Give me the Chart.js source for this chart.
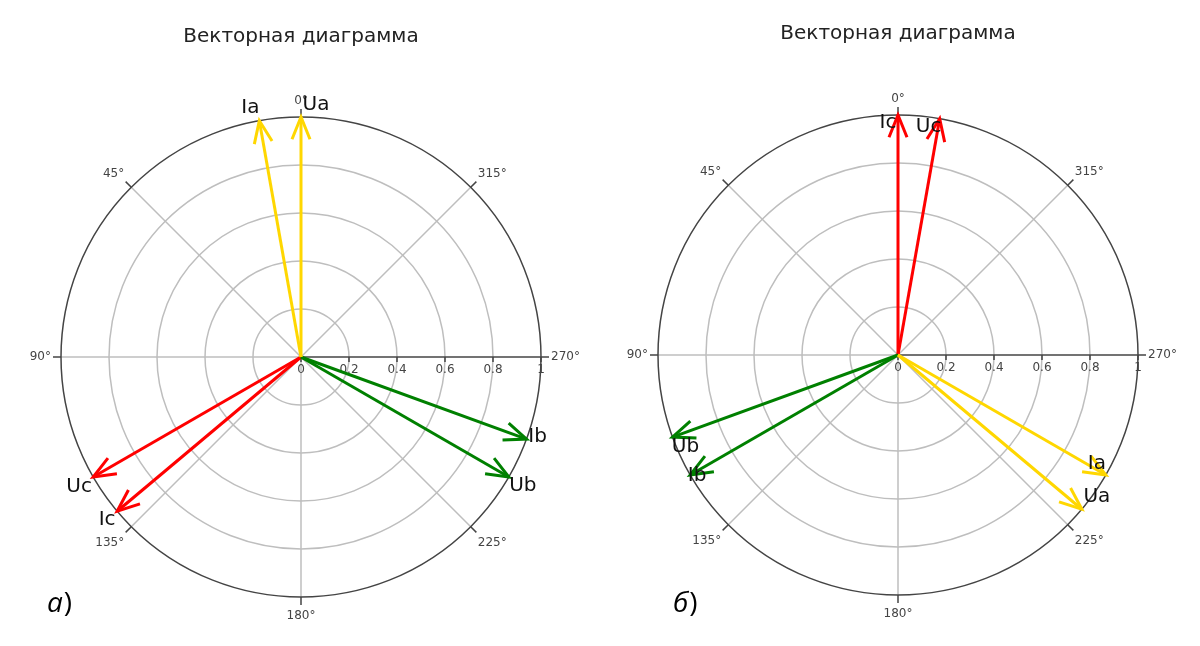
<!DOCTYPE html>
<html>
<head>
<meta charset="utf-8">
<script src="https://cdn.jsdelivr.net/npm/chart.js@4.4.0/dist/chart.umd.min.js"></script>
<style>
  body { margin: 0; background: #fff; }
  .wrap { position: relative; width: 1200px; height: 646px; }
  canvas { position: absolute; top: 0; }
</style>
</head>
<body>
<div class="wrap">
  <canvas id="chartA" width="600" height="646" style="left:0"></canvas>
  <canvas id="chartB" width="600" height="646" style="left:600px"></canvas>
</div>
<script>
// vector data, angles in degrees (0 at top, counter-clockwise)
const namesA = ['Ua', 'Ia', 'Ub', 'Ib', 'Uc', 'Ic'];
const anglesA = [0, 10, 240, 250, 120, 130];
const magsA = [1, 1, 1, 1, 1, 1];

const namesB = ['Ua', 'Ia', 'Ub', 'Ib', 'Uc', 'Ic'];
const anglesB = [230, 240, 110, 120, 350, 0];
const magsB = [1, 1, 1, 1, 1, 1];

const radialTicks = [0, 0.2, 0.4, 0.6, 0.8, 1];
const angularTicks = [0, 45, 90, 135, 180, 225, 270, 315];

const titleText = 'Векторная диаграмма';

// styles
const phaseColors = { a: '#FFD700', b: '#008000', c: '#FF0000' };
const labelOffsetsA = [[15, -12], [-9, -13], [14, 9], [11, -2], [-14, 10], [-10, 9]];
const labelOffsetsB = [[15, -12], [-9, -11], [13, 10], [7, 1], [-11, 8], [-10, 8]];

function toXY(r, deg) {
  const t = deg * Math.PI / 180;
  return { x: -r * Math.sin(t), y: r * Math.cos(t) };
}

const polarPlugin = {
  id: 'polarGrid',
  beforeDatasetsDraw(chart) {
    const ctx = chart.ctx;
    const xs = chart.scales.x, ys = chart.scales.y;
    const cx = xs.getPixelForValue(0), cy = ys.getPixelForValue(0);
    const R = xs.getPixelForValue(1) - cx;
    ctx.save();
    // angular grid lines
    ctx.strokeStyle = '#bebebe';
    ctx.lineWidth = 1.5;
    angularTicks.forEach(a => {
      if (a === 270) return;
      const p = toXY(1, a);
      ctx.beginPath();
      ctx.moveTo(cx, cy);
      ctx.lineTo(cx + p.x * R, cy - p.y * R);
      ctx.stroke();
    });
    // circles
    radialTicks.forEach(v => {
      if (v === 0 || v === 1) return;
      ctx.beginPath();
      ctx.arc(cx, cy, xs.getPixelForValue(v) - cx, 0, Math.PI * 2);
      ctx.stroke();
    });
    // outer circle
    ctx.strokeStyle = '#444';
    ctx.beginPath();
    ctx.arc(cx, cy, R, 0, Math.PI * 2);
    ctx.stroke();
    // radial axis line along 270
    ctx.beginPath();
    ctx.moveTo(cx, cy);
    ctx.lineTo(cx + R, cy);
    ctx.stroke();
    // radial ticks
    ctx.font = '12px "DejaVu Sans"';
    ctx.fillStyle = '#444';
    ctx.textAlign = 'center';
    ctx.textBaseline = 'top';
    radialTicks.forEach(v => {
      const px = xs.getPixelForValue(v);
      ctx.beginPath();
      ctx.moveTo(px, cy);
      ctx.lineTo(px, cy + 5);
      ctx.stroke();
      ctx.fillText(String(v), px, cy + 7);
    });
    // angular ticks and labels
    angularTicks.forEach(a => {
      const d = toXY(1, a);
      const dx = d.x, dy = -d.y;
      ctx.beginPath();
      ctx.moveTo(cx + dx * R, cy + dy * R);
      ctx.lineTo(cx + dx * (R + 8), cy + dy * (R + 8));
      ctx.stroke();
      const txt = a + '°';
      let lx = cx + dx * (R + 10);
      let ly = cy + dy * (R + 10);
      ctx.textAlign = dx < -0.1 ? 'right' : (dx > 0.1 ? 'left' : 'center');
      if (dy < -0.1) {
        ctx.textBaseline = 'bottom';
      } else if (dy > 0.1) {
        ctx.textBaseline = 'top';
        ly += 3;
      } else {
        ctx.textBaseline = 'middle';
      }
      ctx.fillText(txt, lx, ly);
    });
    ctx.restore();
  },
  afterDatasetsDraw(chart) {
    const ctx = chart.ctx;
    const opts = chart.options.plugins.polarGrid;
    ctx.save();
    chart.data.datasets.forEach((ds, i) => {
      const meta = chart.getDatasetMeta(i);
      const p0 = meta.data[0], p1 = meta.data[1];
      const ang = Math.atan2(p1.y - p0.y, p1.x - p0.x);
      const L = 24, spread = 22 * Math.PI / 180;
      ctx.strokeStyle = ds.borderColor;
      ctx.lineWidth = 3;
      ctx.beginPath();
      ctx.moveTo(p1.x - L * Math.cos(ang - spread), p1.y - L * Math.sin(ang - spread));
      ctx.lineTo(p1.x, p1.y);
      ctx.lineTo(p1.x - L * Math.cos(ang + spread), p1.y - L * Math.sin(ang + spread));
      ctx.stroke();
      const off = opts.offsets[i];
      ctx.font = '20px "DejaVu Sans"';
      ctx.fillStyle = '#111';
      ctx.textAlign = 'center';
      ctx.textBaseline = 'middle';
      ctx.fillText(ds.label, p1.x + off[0], p1.y + off[1]);
    });
    // title
    const xs = chart.scales.x;
    const cx = xs.getPixelForValue(0);
    ctx.font = '20px "DejaVu Sans"';
    ctx.fillStyle = '#222';
    ctx.textAlign = 'center';
    ctx.textBaseline = 'middle';
    ctx.fillText(titleText, cx, opts.titleY);
    // panel letter
    ctx.textAlign = 'left';
    ctx.textBaseline = 'alphabetic';
    ctx.font = 'italic 28px "Open Sans"';
    ctx.fillStyle = '#000';
    ctx.fillText(opts.letter, opts.letterX, 612);
    const lw = ctx.measureText(opts.letter).width;
    ctx.font = '28px "Open Sans"';
    ctx.fillText(')', opts.letterX + lw + 1, 612);
    ctx.restore();
  }
};

function phaseOf(name) { return name.charAt(1); }

function makeChart(id, names, angles, mags, offsets, padding, titleY, letter, letterX) {
  const datasets = names.map((n, i) => {
    const tip = toXY(mags[i], angles[i]);
    return {
      label: n,
      data: [{ x: 0, y: 0 }, tip],
      showLine: true,
      borderColor: phaseColors[phaseOf(n)],
      borderWidth: 3,
      pointRadius: 0,
      clip: false
    };
  });
  return new Chart(document.getElementById(id), {
    type: 'scatter',
    data: { datasets: datasets },
    options: {
      responsive: false,
      animation: false,
      devicePixelRatio: 1,
      layout: { padding: padding },
      scales: {
        x: { type: 'linear', min: -1, max: 1, display: false },
        y: { type: 'linear', min: -1, max: 1, display: false }
      },
      plugins: {
        legend: { display: false },
        tooltip: { enabled: false },
        polarGrid: { offsets: offsets, titleY: titleY, letter: letter, letterX: letterX }
      }
    },
    plugins: [polarPlugin]
  });
}

makeChart('chartA', namesA, anglesA, magsA, labelOffsetsA,
  { left: 61, right: 59, top: 117, bottom: 49 }, 37, 'а', 47);
makeChart('chartB', namesB, anglesB, magsB, labelOffsetsB,
  { left: 58, right: 62, top: 115, bottom: 51 }, 34, 'б', 73);
</script>
</body>
</html>
